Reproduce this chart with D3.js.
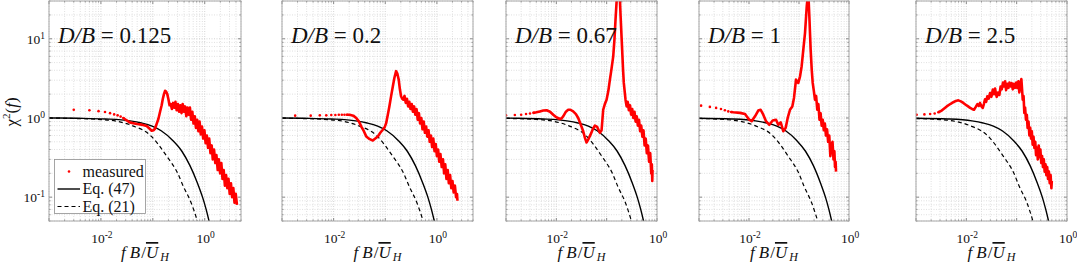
<!DOCTYPE html>
<html><head><meta charset="utf-8">
<script src="https://cdn.jsdelivr.net/npm/d3@7"></script>
<style>
body{margin:0;background:#fff}
svg{display:block}
text{font-family:"Liberation Serif","Times New Roman",serif;fill:#111}
</style>
</head><body>
<svg id="chart" width="1077" height="265"></svg>
<script>
// ---------------- DATA ----------------
const panelTitles = ["0.125", "0.2", "0.67", "1", "2.5"];
const xMaxValues = [5, 5, 1, 1, 1];
const xMinValue = 1e-3;
const yDomain = [0.05, 30];
const xTickValues = [0.01, 1];
const xTickExponents = ["-2", "0"];
const yTickValues = [0.1, 1, 10];
const yTickExponents = ["-1", "0", "1"];
const legendLabels = ["measured", "Eq. (47)", "Eq. (21)"];

// measured: sparse low-frequency dots, then dense trace  [f, chi2]
const dots1 = [[0.003,1.27],[0.006,1.25],[0.009,1.22],[0.012,1.19],[0.015,1.15],[0.018,1.11],[0.021,1.08],[0.024,1.04],[0.027,1.0]];
const trace1 = [[0.027,1.0],[0.0314,0.93],[0.036,0.88],[0.042,0.86],[0.05,0.84],[0.0567,0.83],[0.065,0.815],[0.0763,0.79],[0.085,0.74],[0.0953,0.69],[0.103,0.7],[0.11,0.73],[0.12,0.86],[0.128,0.97],[0.138,1.2],[0.148,1.45],[0.156,1.75],[0.164,2.0],[0.172,2.2],[0.18,2.15],[0.19,2.0],[0.199,1.75],[0.21,1.45],
  [0.221,1.5],[0.233,1.3],[0.246,1.55],[0.259,1.35],[0.273,1.6],[0.288,1.25],[0.304,1.5],[0.321,1.2],[0.338,1.45],[0.357,1.15],[0.376,1.5],[0.397,1.2],[0.419,1.4],[0.442,1.05],[0.466,1.35],[0.492,1.1],[0.519,1.35],[0.547,0.95],[0.577,1.2],[0.609,0.85],[0.643,1.05],[0.678,0.75],[0.715,0.95],[0.755,0.68],[0.796,0.9],[0.84,0.62],[0.886,0.78],[0.935,0.55],[0.986,0.7],[1.04,0.48],[1.1,0.6],[1.16,0.42],[1.22,0.55],[1.29,0.36],[1.36,0.45],[1.43,0.3],[1.51,0.4],[1.6,0.27],[1.68,0.34],[1.78,0.22],[1.87,0.3],[1.98,0.2],[2.09,0.27],[2.2,0.17],[2.32,0.22],[2.45,0.14],[2.58,0.19],[2.72,0.13],[2.87,0.17],[3.03,0.11],[3.2,0.15],[3.37,0.1],[3.56,0.13],[3.75,0.085],[3.96,0.11],[4.18,0.08]];
const dots2 = [[0.0018,1.07],[0.0036,1.07],[0.0054,1.08],[0.0072,1.08],[0.009,1.09],[0.0108,1.09],[0.0126,1.1],[0.0144,1.1],[0.0162,1.1],[0.018,1.1]];
const trace2 = [[0.018,1.1],[0.0204,1.1],[0.024,1.07],[0.0274,1.0],[0.031,0.9],[0.0344,0.78],[0.0385,0.68],[0.0428,0.585],[0.05,0.54],[0.0574,0.52],[0.064,0.55],[0.0717,0.585],[0.08,0.65],[0.0895,0.71],[0.097,0.76],[0.104,0.86],[0.112,1.1],[0.12,1.4],[0.13,1.9],[0.14,2.5],[0.15,3.2],[0.162,3.9],[0.172,3.6],[0.182,3.05],[0.192,2.3],[0.202,1.88],[0.213,1.75],
  [0.224,1.7],[0.236,1.9],[0.249,1.55],[0.263,1.75],[0.277,1.4],[0.292,1.6],[0.308,1.3],[0.325,1.5],[0.343,1.2],[0.362,1.4],[0.382,1.1],[0.403,1.3],[0.425,0.95],[0.448,1.15],[0.473,0.85],[0.499,1.0],[0.526,0.72],[0.555,0.9],[0.586,0.65],[0.618,0.78],[0.652,0.58],[0.688,0.7],[0.726,0.5],[0.766,0.6],[0.808,0.43],[0.852,0.55],[0.899,0.38],[0.948,0.47],[1.0,0.33],[1.055,0.4],[1.11,0.28],[1.17,0.35],[1.24,0.24],[1.31,0.3],[1.38,0.2],[1.45,0.26],[1.53,0.17],[1.62,0.22],[1.7,0.15],[1.8,0.19],[1.9,0.13],[2.0,0.16],[2.11,0.115],[2.23,0.14],[2.35,0.1],[2.45,0.11],[2.5,0.09]];
const dots3 = [[0.001,1.08],[0.0015,1.09],[0.002,1.1],[0.0025,1.12],[0.003,1.14],[0.0035,1.16]];
const trace3 = [[0.0035,1.16],[0.004,1.18],[0.00473,1.21],[0.0055,1.24],[0.00642,1.25],[0.0075,1.2],[0.00867,1.1],[0.01,1.02],[0.0118,0.97],[0.0128,0.99],[0.0137,1.05],[0.0155,1.2],[0.0172,1.27],[0.019,1.27],[0.0216,1.21],[0.0245,1.12],[0.0272,1.0],[0.03,0.85],[0.0342,0.68],[0.037,0.56],[0.0399,0.49],[0.044,0.55],[0.048,0.62],[0.053,0.72],[0.0583,0.8],[0.0648,0.77],[0.0733,0.65],[0.0792,0.7],[0.0853,1.27],[0.092,1.5],[0.0996,1.7],[0.108,2.2],[0.116,3.05],[0.125,4.2],[0.135,6.0],[0.143,10],[0.15,17.5],[0.157,28.5],[0.165,45],[0.175,45],[0.182,35],[0.189,19.4],[0.203,7.3],[0.212,4.0],[0.219,2.77],
  [0.237,1.7],[0.249,1.4],[0.262,1.6],[0.276,1.25],[0.291,1.45],[0.306,1.1],[0.322,1.3],[0.339,1.0],[0.357,1.2],[0.376,0.9],[0.396,1.05],[0.417,0.8],[0.439,0.95],[0.462,0.68],[0.486,0.8],[0.512,0.58],[0.539,0.7],[0.567,0.45],[0.597,0.55],[0.628,0.36],[0.661,0.45],[0.696,0.28],[0.733,0.36],[0.77,0.2],[0.79,0.26],[0.805,0.16],[0.815,0.22]];
const dots4 = [[0.0011,1.43],[0.00165,1.38],[0.0022,1.34],[0.00275,1.3],[0.0033,1.25],[0.00385,1.21],[0.0044,1.19]];
const trace4 = [[0.0044,1.19],[0.00485,1.18],[0.00661,1.16],[0.00832,1.12],[0.0101,0.95],[0.0113,0.91],[0.0132,1.05],[0.0153,1.24],[0.0171,1.27],[0.0193,1.1],[0.0219,0.91],[0.0255,0.82],[0.0298,0.93],[0.0347,0.95],[0.0385,0.82],[0.0431,0.88],[0.0485,0.68],[0.0542,0.75],[0.0594,1.0],[0.0661,1.27],[0.0735,1.4],[0.0794,1.79],[0.0871,3.05],[0.0968,2.77],[0.105,3.36],[0.113,4.5],[0.122,7.3],[0.132,11.9],[0.143,25.8],[0.153,40],
  [0.161,19.4],[0.171,7.3],[0.18,4.0],[0.188,2.77],[0.198,2.2],[0.209,1.7],[0.22,1.9],[0.232,1.27],[0.244,1.5],[0.257,0.95],[0.27,1.15],[0.284,0.8],[0.298,0.95],[0.313,0.7],[0.329,0.85],[0.346,0.6],[0.364,0.72],[0.383,0.5],[0.403,0.6],[0.424,0.33],[0.445,0.45],[0.468,0.5],[0.49,0.3],[0.51,0.38],[0.525,0.24],[0.54,0.28],[0.55,0.21]];
const dots5 = [[0.00103,1.1],[0.00147,1.11],[0.00191,1.12],[0.00235,1.14],[0.00278,1.18]];
const trace5 = [[0.00278,1.18],[0.00324,1.24],[0.00408,1.4],[0.0048,1.5],[0.00552,1.58],[0.0062,1.64],[0.00694,1.67],[0.0078,1.62],[0.00872,1.55],[0.0097,1.47],[0.0105,1.42],[0.0119,1.34],[0.013,1.3],[0.0142,1.27],[0.0154,1.38],[0.0166,1.5],[0.0177,1.42],[0.0187,1.55],[0.02,1.4],[0.0212,1.34],[0.0223,1.5],[0.0235,1.72],[0.0248,1.6],[0.0261,1.88],[0.0278,1.75],[0.0296,2.07],[0.0315,1.85],[0.0335,2.28],[0.0353,2.0],[0.0372,2.35],[0.039,2.0],[0.0402,1.85],[0.0425,2.1],[0.0453,1.95],[0.048,2.5],[0.0506,2.3],[0.0535,2.8],[0.0562,2.5],[0.059,2.9],[0.0616,2.25],[0.065,2.7],[0.0684,2.4],[0.072,2.8],[0.0763,2.5],[0.08,2.75],[0.0836,2.3],[0.088,2.7],[0.0929,2.4],[0.098,2.8],[0.103,2.4],[0.108,2.9],[0.113,2.1],[0.119,2.7],[0.124,3.1],[0.128,2.3],[0.132,1.7],[0.137,1.9],[0.142,1.16],[0.147,1.35],[0.153,0.95],[0.159,1.1],[0.165,0.75],[0.172,0.9],[0.179,0.6],[0.186,0.75],[0.193,0.55],[0.2,0.68],[0.208,0.46],[0.216,0.58],[0.225,0.42],[0.234,0.5],[0.243,0.34],[0.253,0.42],[0.263,0.3],[0.274,0.45],[0.285,0.32],[0.296,0.4],[0.308,0.27],[0.32,0.33],[0.333,0.24],[0.346,0.3],[0.36,0.21],[0.374,0.26],[0.389,0.19],[0.404,0.24],[0.42,0.17],[0.437,0.21],[0.454,0.15],[0.472,0.19],[0.49,0.13],[0.499,0.16]];

// Eq. (47) (solid) and Eq. (21) (dashed)
const eq47_1 = [[0.001,1.0],[0.00363,0.992],[0.0121,0.972],[0.0363,0.92],[0.0605,0.865],[0.0968,0.79],[0.145,0.69],[0.242,0.52],[0.363,0.38],[0.52,0.25],[0.726,0.15],[0.908,0.1],[1.065,0.07],[1.21,0.05],[1.33,0.038]];
const eq21_1 = [[0.001,1.0],[0.003,0.985],[0.0101,0.955],[0.0202,0.91],[0.0403,0.8],[0.0878,0.61],[0.185,0.33],[0.302,0.2],[0.389,0.136],[0.547,0.085],[0.72,0.05],[0.79,0.04]];
const eq47_2 = [[0.001,1.0],[0.00267,0.992],[0.0089,0.972],[0.0267,0.92],[0.0445,0.865],[0.0712,0.79],[0.107,0.69],[0.178,0.52],[0.267,0.38],[0.383,0.25],[0.534,0.15],[0.668,0.1],[0.783,0.07],[0.89,0.05],[0.98,0.038]];
const eq21_2 = [[0.001,0.995],[0.00227,0.985],[0.00756,0.955],[0.0151,0.91],[0.0302,0.8],[0.0659,0.61],[0.139,0.33],[0.227,0.2],[0.292,0.136],[0.41,0.085],[0.54,0.05],[0.594,0.04]];
const eq47_3 = [[0.001,0.995],[0.00162,0.992],[0.0054,0.972],[0.0162,0.92],[0.027,0.865],[0.0432,0.79],[0.0648,0.69],[0.108,0.52],[0.162,0.38],[0.232,0.25],[0.324,0.15],[0.405,0.1],[0.475,0.07],[0.54,0.05],[0.594,0.038]];
const eq21_3 = [[0.001,0.99],[0.0013,0.985],[0.00434,0.955],[0.00868,0.91],[0.0174,0.8],[0.0378,0.61],[0.0797,0.33],[0.13,0.2],[0.167,0.136],[0.236,0.085],[0.31,0.05],[0.341,0.04]];
const eq47_4 = [[0.001,0.993],[0.0045,0.972],[0.0135,0.92],[0.0225,0.865],[0.036,0.79],[0.054,0.69],[0.09,0.52],[0.135,0.38],[0.194,0.25],[0.27,0.15],[0.338,0.1],[0.396,0.07],[0.45,0.05],[0.495,0.038]];
const eq21_4 = [[0.001,0.985],[0.0033,0.955],[0.0066,0.91],[0.0132,0.8],[0.0288,0.61],[0.0607,0.33],[0.0991,0.2],[0.127,0.136],[0.179,0.085],[0.236,0.05],[0.26,0.04]];
const eq47_5 = [[0.001,0.993],[0.0043,0.972],[0.0129,0.92],[0.0215,0.865],[0.0344,0.79],[0.0516,0.69],[0.086,0.52],[0.129,0.38],[0.185,0.25],[0.258,0.15],[0.323,0.1],[0.378,0.07],[0.43,0.05],[0.473,0.038]];
const eq21_5 = [[0.001,0.983],[0.00294,0.955],[0.00588,0.91],[0.0118,0.8],[0.0256,0.61],[0.054,0.33],[0.0882,0.2],[0.113,0.136],[0.16,0.085],[0.21,0.05],[0.231,0.04]];

const measuredDots = [dots1, dots2, dots3, dots4, dots5];
const measuredTraces = [trace1, trace2, trace3, trace4, trace5];
const eq47Curves = [eq47_1, eq47_2, eq47_3, eq47_4, eq47_5];
const eq21Curves = [eq21_1, eq21_2, eq21_3, eq21_4, eq21_5];

// ---------------- LAYOUT ----------------
const panelLefts = [49, 282, 506, 699, 916];
const panelRights = [241, 473, 657, 849, 1067];
const plotTop = 1, plotBottom = 221;
const red = "#ff0000";
const serif = "'Liberation Serif','Times New Roman',serif";

const svg = d3.select("#chart");
const defs = svg.append("defs");

panelTitles.forEach((title, i) => {
  const L = panelLefts[i], R = panelRights[i];
  const x = d3.scaleLog().domain([xMinValue, xMaxValues[i]]).range([L, R]);
  const y = d3.scaleLog().domain(yDomain).range([plotBottom, plotTop]);
  const g = svg.append("g").attr("font-family", serif);

  defs.append("clipPath").attr("id", "clip" + i)
    .append("rect").attr("x", L).attr("y", plotTop).attr("width", R - L).attr("height", plotBottom - plotTop);

  // grid
  const xt = x.ticks();
  const yt = y.ticks();
  const isDecade = v => Math.abs(Math.log10(v) - Math.round(Math.log10(v))) < 1e-6;
  g.selectAll(".gx").data(xt).join("line")
    .attr("x1", d => x(d)).attr("x2", d => x(d)).attr("y1", plotTop).attr("y2", plotBottom)
    .attr("stroke", d => isDecade(d) ? "#c8c8c8" : "#d8d8d8")
    .attr("stroke-width", 0.8).attr("stroke-dasharray", "1,1.5");
  g.selectAll(".gy").data(yt).join("line")
    .attr("y1", d => y(d)).attr("y2", d => y(d)).attr("x1", L).attr("x2", R)
    .attr("stroke", d => isDecade(d) ? "#c8c8c8" : "#d8d8d8")
    .attr("stroke-width", 0.8).attr("stroke-dasharray", "1,1.5");

  // ticks (inside)
  const tickCol = "#8a8a8a";
  xt.forEach(d => {
    const len = isDecade(d) ? 3 : 1.5;
    g.append("line").attr("x1", x(d)).attr("x2", x(d)).attr("y1", plotBottom).attr("y2", plotBottom - len).attr("stroke", tickCol);
    g.append("line").attr("x1", x(d)).attr("x2", x(d)).attr("y1", plotTop).attr("y2", plotTop + len).attr("stroke", tickCol);
  });
  yt.forEach(d => {
    const len = isDecade(d) ? 3 : 1.5;
    g.append("line").attr("x1", L).attr("x2", L + len).attr("y1", y(d)).attr("y2", y(d)).attr("stroke", tickCol);
    g.append("line").attr("x1", R).attr("x2", R - len).attr("y1", y(d)).attr("y2", y(d)).attr("stroke", tickCol);
  });

  const plot = g.append("g").attr("clip-path", `url(#clip${i})`);
  const smooth = d3.line().x(d => x(d[0])).y(d => y(d[1])).curve(d3.curveMonotoneX);
  const straight = d3.line().x(d => x(d[0])).y(d => y(d[1]));

  // theory curves
  plot.append("path").datum(eq21Curves[i]).attr("d", smooth)
    .attr("fill", "none").attr("stroke", "#000").attr("stroke-width", 1.2).attr("stroke-dasharray", "4,3");
  plot.append("path").datum(eq47Curves[i]).attr("d", smooth)
    .attr("fill", "none").attr("stroke", "#000").attr("stroke-width", 1.4);

  // measured
  plot.append("path").datum(measuredTraces[i]).attr("d", straight)
    .attr("fill", "none").attr("stroke", red).attr("stroke-width", 2.6).attr("stroke-linejoin", "round");
  plot.selectAll(".dot").data(measuredDots[i]).join("circle")
    .attr("cx", d => x(d[0])).attr("cy", d => y(d[1])).attr("r", 1.3).attr("fill", red);

  // frame
  g.append("rect").attr("x", L).attr("y", plotTop).attr("width", R - L).attr("height", plotBottom - plotTop)
    .attr("fill", "none").attr("stroke", "#a8a8a8").attr("stroke-width", 1);

  // x tick labels
  xTickValues.forEach((v, k) => {
    const t = g.append("text").attr("x", x(v) + 1).attr("y", 243).attr("text-anchor", "middle").style("font-size", "13.5px");
    t.append("tspan").text("10");
    t.append("tspan").attr("dy", -5).style("font-size", "9.5px").text(xTickExponents[k]);
  });
  // y tick labels (first panel only)
  if (i === 0) {
    yTickValues.forEach((v, k) => {
      const t = g.append("text").attr("x", L - 4).attr("y", y(v) + 5).attr("text-anchor", "end").style("font-size", "13.5px");
      t.append("tspan").text("10");
      t.append("tspan").attr("dy", -5).style("font-size", "9.5px").text(yTickExponents[k]);
    });
  }

  // x axis label
  const xl = g.append("text").attr("x", (L + R) / 2).attr("y", 258).attr("text-anchor", "middle").style("font-size", "17px");
  xl.append("tspan").style("font-style", "italic").text("f");
  xl.append("tspan").style("font-style", "italic").attr("dx", 4).text("B");
  xl.append("tspan").attr("dx", 1).text("/");
  xl.append("tspan").style("font-style", "italic").style("text-decoration", "overline").text("U");
  xl.append("tspan").style("font-style", "italic").style("font-size", "12px").attr("dx", 2).attr("dy", 3).text("H");

  // title
  const tt = g.append("text").attr("x", L + 9).attr("y", 43).style("font-size", "23px");
  tt.append("tspan").style("font-style", "italic").text("D/B");
  tt.append("tspan").text(" = " + title);

  // legend
  if (i === 0) {
    const lg = g.append("g");
    lg.append("rect").attr("x", 54.5).attr("y", 159.5).attr("width", 91).attr("height", 54)
      .attr("fill", "#fff").attr("stroke", "#909090").attr("stroke-width", 0.8);
    const rows = [171.5, 189, 206.5];
    lg.append("circle").attr("cx", 69).attr("cy", rows[0]).attr("r", 1.3).attr("fill", red);
    lg.append("line").attr("x1", 57.5).attr("x2", 80).attr("y1", rows[1]).attr("y2", rows[1]).attr("stroke", "#000").attr("stroke-width", 1.4);
    lg.append("line").attr("x1", 57.5).attr("x2", 80).attr("y1", rows[2]).attr("y2", rows[2]).attr("stroke", "#000").attr("stroke-width", 1.2).attr("stroke-dasharray", "4,3");
    legendLabels.forEach((lab, k) => {
      lg.append("text").attr("x", 82.5).attr("y", rows[k] + 5).style("font-size", "16px").text(lab);
    });
  }
});

// y axis label
const yl = svg.append("text").attr("font-family", serif).attr("transform", "translate(17,112) rotate(-90)").attr("text-anchor", "middle").style("font-size", "17px");
yl.append("tspan").text("χ");
yl.append("tspan").attr("dy", -7).style("font-size", "11px").text("2");
yl.append("tspan").attr("dy", 7).text("(");
yl.append("tspan").style("font-style", "italic").text("f");
yl.append("tspan").text(")");
</script>
</body></html>
